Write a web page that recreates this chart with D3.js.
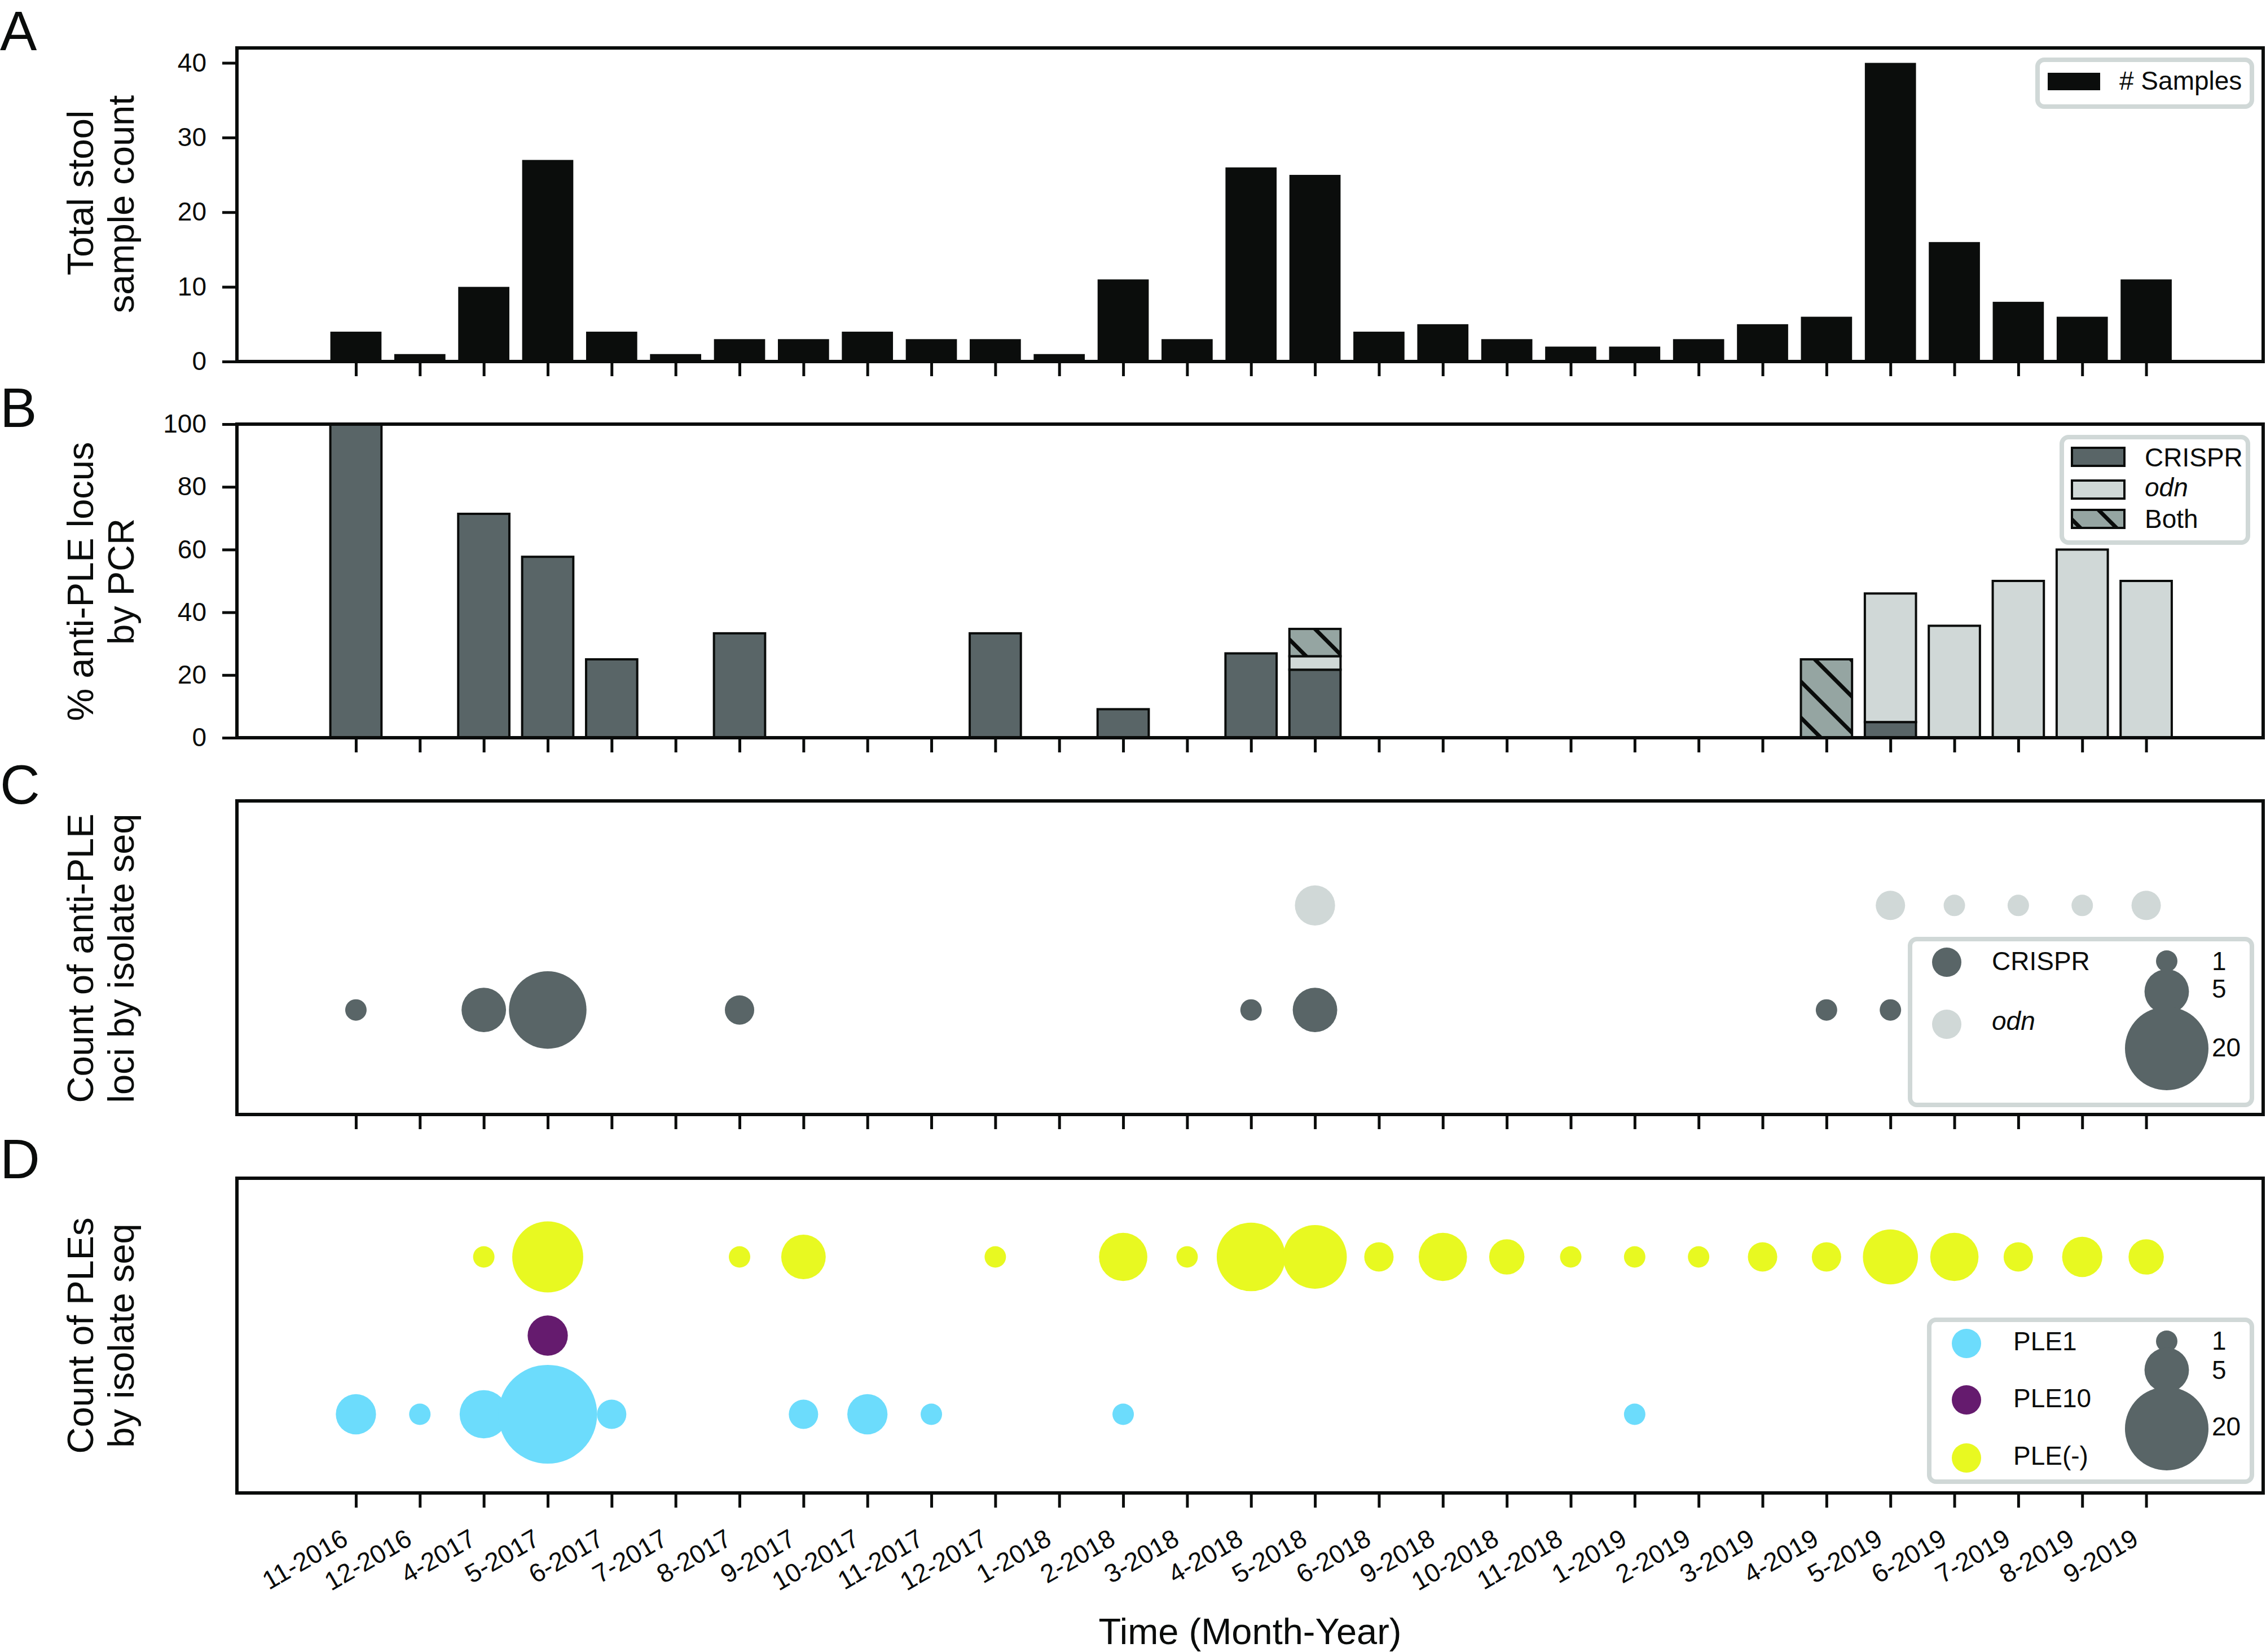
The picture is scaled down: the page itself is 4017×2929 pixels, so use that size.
<!DOCTYPE html>
<html><head><meta charset="utf-8">
<script src="https://cdn.jsdelivr.net/npm/d3@7"></script>
<style>
body{margin:0;background:#fff}
svg{display:block}
text{font-family:"Liberation Sans",Arial,Helvetica,sans-serif;fill:#0a0c0b}
</style>
</head><body><div id="chart"></div>
<script>
// ---------------- DATA ----------------
const months = ["11-2016","12-2016","4-2017","5-2017","6-2017","7-2017","8-2017","9-2017","10-2017","11-2017","12-2017","1-2018","2-2018","3-2018","4-2018","5-2018","6-2018","9-2018","10-2018","11-2018","1-2019","2-2019","3-2019","4-2019","5-2019","6-2019","7-2019","8-2019","9-2019"];
const samples = [4,1,10,27,4,1,3,3,4,3,3,1,11,3,26,25,4,5,3,2,2,3,5,6,40,16,8,6,11];
// Panel B: % anti-PLE locus by PCR (stacked)
const pcrCrispr = [100,0,71.4,57.7,25,0,33.3,0,0,0,33.3,0,9.1,0,26.9,21.7,0,0,0,0,0,0,0,0,5,0,0,0,0];
const pcrOdn    = [0,0,0,0,0,0,0,0,0,0,0,0,0,0,0,4.3,0,0,0,0,0,0,0,0,41,35.7,50,60,50];
const pcrBoth   = [0,0,0,0,0,0,0,0,0,0,0,0,0,0,0,8.7,0,0,0,0,0,0,0,25,0,0,0,0,0];
// Panel C: count of anti-PLE loci by isolate seq
const seqCrispr = [1,0,5,17,0,0,2,0,0,0,0,0,0,0,1,5,0,0,0,0,0,0,0,1,1,0,0,0,0];
const seqOdn    = [0,0,0,0,0,0,0,0,0,0,0,0,0,0,0,4,0,0,0,0,0,0,0,0,2,1,1,1,2];
// Panel D: count of PLEs by isolate seq
const ple1   = [4,1,6,29,2,0,0,2,4,1,0,0,1,0,0,0,0,0,0,0,1,0,0,0,0,0,0,0,0];
const ple10  = [0,0,0,4,0,0,0,0,0,0,0,0,0,0,0,0,0,0,0,0,0,0,0,0,0,0,0,0,0];
const pleNeg = [0,0,1,14,0,0,1,5,0,0,1,0,6,1,13,11,2,6,3,1,1,1,2,2,8,6,2,4,3];
const sampleTicks = [0,10,20,30,40];
const pcrTicks = [0,20,40,60,80,100];
const sizeLegend = [1,5,20];

// ---------------- STYLE / LAYOUT ----------------
const W = 4017, H = 2929;
const INK = "#0a0c0b";
const C_CRISPR = "#596567", C_ODN = "#d0d8d7", C_BOTH = "#95a5a2";
const C_PLE1 = "#6cdcfc", C_PLE10 = "#651b6e", C_PLENEG = "#e8f921";
const LEG_BORDER = "#d0d8d7";
const FS_TICK = 46, FS_LAB = 65, FS_LEG = 46, FS_LETTER = 98;
const panels = {A:[85,641], B:[752,1308], C:[1420,1976], D:[2089,2647]};

const svg = d3.select("#chart").append("svg").attr("width", W).attr("height", H);
const defs = svg.append("defs");
const hp = defs.append("pattern").attr("id","hatch").attr("patternUnits","userSpaceOnUse")
  .attr("width",64).attr("height",64);
hp.append("rect").attr("width",64).attr("height",64).attr("fill",C_BOTH);
hp.append("path").attr("d","M-6,-6L70,70M58,-6L70,6M-6,58L6,70").attr("stroke",INK).attr("stroke-width",7);

const x = d3.scaleLinear().domain([-1.861, 29.83]).range([420, 4012]);
const idx = d3.range(months.length);
const bw = x(0.8) - x(0);
const rS = d3.scalePow().exponent(0.454).domain([0,20]).range([0,74]);

function frame(key){
  const [t,b] = panels[key];
  const g = svg.append("g").attr("transform",`translate(0,${b})`)
    .call(d3.axisBottom(x).tickValues(idx).tickSize(26).tickFormat(""));
  g.select(".domain").remove();
  g.selectAll(".tick line").attr("stroke",INK).attr("stroke-width",5);
  svg.append("rect").attr("x",x.range()[0]).attr("y",t).attr("width",x.range()[1]-x.range()[0])
    .attr("height",b-t).attr("fill","none").attr("stroke",INK).attr("stroke-width",6);
}
function yAxis(scale, ticks){
  const g = svg.append("g").attr("transform",`translate(${x.range()[0]},0)`)
    .call(d3.axisLeft(scale).tickValues(ticks).tickSize(26).tickPadding(28));
  g.select(".domain").remove();
  g.selectAll(".tick line").attr("stroke",INK).attr("stroke-width",5);
  g.selectAll(".tick text").attr("font-size",FS_TICK).attr("font-family",null).attr("fill",INK);
}
function yLabel(lines){
  lines.forEach(([txt,bx,cy])=>{
    svg.append("text").attr("transform",`translate(${bx},${cy}) rotate(-90)`)
      .attr("text-anchor","middle").attr("font-size",FS_LAB).text(txt);
  });
}
function letter(ch, y){
  svg.append("text").attr("x",0).attr("y",y).attr("font-size",FS_LETTER).text(ch);
}
function legendBox(x0,y0,w,h){
  svg.append("rect").attr("x",x0).attr("y",y0).attr("width",w).attr("height",h)
    .attr("rx",12).attr("fill","#fff").attr("stroke",LEG_BORDER).attr("stroke-width",8);
}

// ---------------- PANEL A ----------------
{
  const [t,b] = panels.A;
  const y = d3.scaleLinear().domain([0,42]).range([b,t]);
  svg.append("g").selectAll("rect").data(idx.filter(i=>samples[i]>0)).join("rect")
    .attr("x",i=>x(i)-bw/2).attr("width",bw)
    .attr("y",i=>y(samples[i])).attr("height",i=>y(0)-y(samples[i]))
    .attr("fill","#0b0d0c");
  frame("A"); yAxis(y, sampleTicks);
  yLabel([["Total stool",165,342],["sample count",237,362]]);
  letter("A",89);
  legendBox(3612,106,380,83);
  svg.append("rect").attr("x",3630).attr("y",129).attr("width",93).attr("height",31).attr("fill","#0b0d0c");
  svg.append("text").attr("x",3757).attr("y",159).attr("font-size",FS_LEG).text("# Samples");
}

// ---------------- PANEL B ----------------
{
  const [t,b] = panels.B;
  const y = d3.scaleLinear().domain([0,100]).range([b,t]);
  const segs = [];
  idx.forEach(i=>{
    let base = 0;
    [[pcrCrispr[i],C_CRISPR],[pcrOdn[i],C_ODN],[pcrBoth[i],"url(#hatch)"]].forEach(([v,f])=>{
      if(v>0){ segs.push({i,y0:base,y1:base+v,f}); base+=v; }
    });
  });
  svg.append("g").selectAll("rect").data(segs).join("rect")
    .attr("x",d=>x(d.i)-bw/2).attr("width",bw)
    .attr("y",d=>y(d.y1)).attr("height",d=>y(d.y0)-y(d.y1))
    .attr("fill",d=>d.f).attr("stroke",INK).attr("stroke-width",4);
  frame("B"); yAxis(y, pcrTicks);
  yLabel([["% anti-PLE locus",165,1031],["by PCR",237,1031]]);
  letter("B",757);
  legendBox(3655,775,330,187);
  const items = [["CRISPR",C_CRISPR,794,827,false],["odn",C_ODN,852,880,true],["Both","url(#hatch)",904,936,false]];
  items.forEach(([lab,f,ry,ty,it])=>{
    svg.append("rect").attr("x",3673).attr("y",ry).attr("width",93).attr("height",32)
      .attr("fill",f).attr("stroke",INK).attr("stroke-width",4);
    svg.append("text").attr("x",3802).attr("y",ty).attr("font-size",FS_LEG)
      .attr("font-style",it?"italic":null).text(lab);
  });
}

// ---------------- bubble helpers ----------------
function bubbles(arr, yv, y, color){
  svg.append("g").selectAll("circle").data(idx.filter(i=>arr[i]>0)).join("circle")
    .attr("cx",i=>x(i)).attr("cy",y(yv)).attr("r",i=>rS(arr[i])).attr("fill",color);
}
function sizeLeg(top, ys, tys){
  sizeLegend.forEach((n,k)=>{
    svg.append("circle").attr("cx",3841).attr("cy",ys[k]).attr("r",rS(n)).attr("fill",C_CRISPR);
  });
  sizeLegend.forEach((n,k)=>{
    svg.append("text").attr("x",3921).attr("y",tys[k]).attr("font-size",FS_LEG).text(n);
  });
}

// ---------------- PANEL C ----------------
{
  const [t,b] = panels.C;
  const y = d3.scaleLinear().domain([-1,2]).range([b,t]);
  bubbles(seqCrispr, 0, y, C_CRISPR);
  bubbles(seqOdn, 1, y, C_ODN);
  frame("C");
  yLabel([["Count of anti-PLE",165,1699],["loci by isolate seq",237,1699]]);
  letter("C",1425);
  legendBox(3386,1665,606,294);
  svg.append("circle").attr("cx",3451).attr("cy",1706).attr("r",26).attr("fill",C_CRISPR);
  svg.append("circle").attr("cx",3451).attr("cy",1816).attr("r",26).attr("fill",C_ODN);
  svg.append("text").attr("x",3531).attr("y",1720).attr("font-size",FS_LEG).text("CRISPR");
  svg.append("text").attr("x",3531).attr("y",1826).attr("font-size",FS_LEG).attr("font-style","italic").text("odn");
  sizeLeg(1665,[1704,1758,1859],[1720,1769,1873]);
}

// ---------------- PANEL D ----------------
{
  const [t,b] = panels.D;
  const y = d3.scaleLinear().domain([-1,3]).range([b,t]);
  bubbles(pleNeg, 2, y, C_PLENEG);
  bubbles(ple10, 1, y, C_PLE10);
  bubbles(ple1, 0, y, C_PLE1);
  frame("D");
  yLabel([["Count of PLEs",165,2368],["by isolate seq",237,2368]]);
  letter("D",2089);
  legendBox(3420,2340,572,287);
  [["PLE1",C_PLE1,2382,2394],["PLE10",C_PLE10,2482,2495],["PLE(-)",C_PLENEG,2585,2597]].forEach(([lab,c,cy,ty])=>{
    svg.append("circle").attr("cx",3486).attr("cy",cy).attr("r",26).attr("fill",c);
    svg.append("text").attr("x",3569).attr("y",ty).attr("font-size",FS_LEG).text(lab);
  });
  sizeLeg(2340,[2378,2429,2533],[2393,2445,2545]);
  // x tick labels
  svg.append("g").selectAll("text").data(idx).join("text")
    .attr("transform",i=>`translate(${x(i)-11},2737) rotate(-30)`)
    .attr("text-anchor","end").attr("font-size",FS_TICK).text(i=>months[i]);
  svg.append("text").attr("x",(x.range()[0]+x.range()[1])/2).attr("y",2915)
    .attr("text-anchor","middle").attr("font-size",FS_LAB).text("Time (Month-Year)");
}
</script>
</body></html>
